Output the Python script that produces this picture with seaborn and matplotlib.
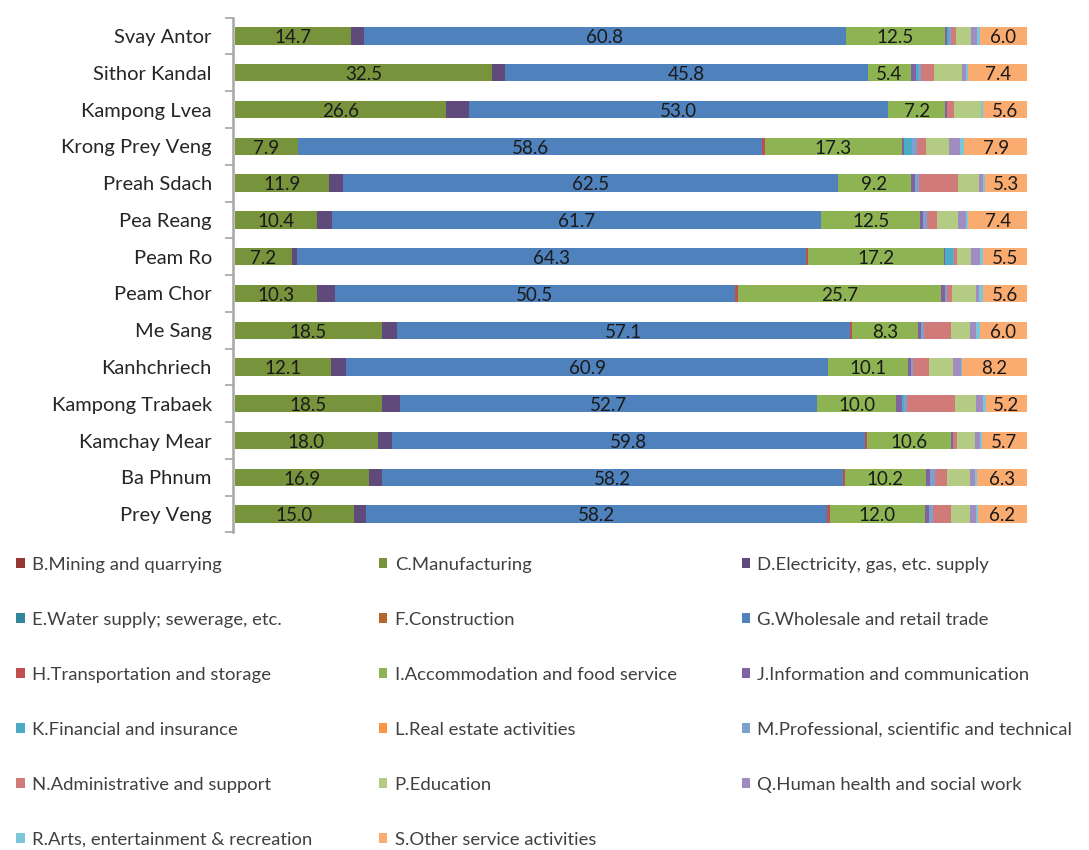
import numpy as np
import pandas as pd
import matplotlib
matplotlib.use("Agg")
import matplotlib.pyplot as plt
import seaborn as sns
from matplotlib.patches import Patch

# ===============================
# Data (percent share by sector)
# ===============================
districts = ["Svay Antor", "Sithor Kandal", "Kampong Lvea", "Krong Prey Veng",
             "Preah Sdach", "Pea Reang", "Peam Ro", "Peam Chor", "Me Sang",
             "Kanhchriech", "Kampong Trabaek", "Kamchay Mear", "Ba Phnum", "Prey Veng"]

sectors = ["B.Mining and quarrying", "C.Manufacturing", "D.Electricity, gas, etc. supply",
           "E.Water supply; sewerage, etc.", "F.Construction", "G.Wholesale and retail trade",
           "H.Transportation and storage", "I.Accommodation and food service",
           "J.Information and communication", "K.Financial and insurance",
           "L.Real estate activities", "M.Professional, scientific and technical",
           "N.Administrative and support", "P.Education", "Q.Human health and social work",
           "R.Arts, entertainment & recreation", "S.Other service activities"]

B = [0, 0, 0, 0, 0, 0, 0, 0, 0, 0, 0, 0, 0, 0]
C = [14.7, 32.5, 26.6, 7.9, 11.9, 10.4, 7.2, 10.3, 18.5, 12.1, 18.5, 18.0, 16.9, 15.0]
D = [1.6, 1.6, 2.9, 0.1, 1.7, 1.9, 0.6, 2.3, 2.0, 1.9, 2.3, 1.8, 1.7, 1.5]
E = [0, 0, 0, 0, 0, 0, 0, 0, 0, 0, 0, 0, 0, 0]
F = [0, 0, 0, 0, 0, 0, 0, 0, 0, 0, 0, 0, 0, 0]
G = [60.8, 45.8, 53.0, 58.6, 62.5, 61.7, 64.3, 50.5, 57.1, 60.9, 52.7, 59.8, 58.2, 58.2]
H = [0, 0, 0, 0.3, 0, 0, 0.2, 0.4, 0.3, 0, 0, 0.2, 0.2, 0.4]
I = [12.5, 5.4, 7.2, 17.3, 9.2, 12.5, 17.2, 25.7, 8.3, 10.1, 10.0, 10.6, 10.2, 12.0]
J = [0.3, 0.7, 0.2, 0.3, 0.5, 0.4, 0.2, 0.4, 0.4, 0.3, 0.7, 0.3, 0.6, 0.5]
K = [0.3, 0.2, 0, 1.0, 0, 0, 0.9, 0, 0, 0, 0.3, 0, 0, 0]
L = [0, 0, 0, 0, 0, 0, 0, 0, 0, 0, 0, 0, 0, 0]
M = [0.2, 0.4, 0, 0.6, 0.5, 0.5, 0.2, 0.3, 0.4, 0.3, 0.3, 0, 0.6, 0.5]
N = [0.6, 1.7, 0.9, 1.1, 5.0, 1.2, 0.4, 0.6, 3.4, 2.0, 6.1, 0.4, 1.5, 2.3]
P = [1.9, 3.5, 3.4, 2.9, 2.6, 2.7, 1.7, 3.0, 2.4, 3.1, 2.7, 2.3, 2.9, 2.4]
Q = [0.8, 0.5, 0, 1.4, 0.6, 1.0, 1.2, 0.4, 0.8, 1.0, 0.9, 0.7, 0.6, 0.8]
R = [0.3, 0.3, 0.2, 0.6, 0.2, 0.3, 0.4, 0.5, 0.4, 0.1, 0.3, 0.2, 0.3, 0.2]
S = [6.0, 7.4, 5.6, 7.9, 5.3, 7.4, 5.5, 5.6, 6.0, 8.2, 5.2, 5.7, 6.3, 6.2]

colors = ["#953735", "#77933C", "#604A7B", "#31859C", "#B7642D", "#4F81BD",
          "#C0504D", "#8DB352", "#8064A2", "#4BACC6", "#F79646", "#7F9FD0",
          "#D07B79", "#B3CB82", "#A08CC0", "#7DC5D9", "#F9AB70"]

# sectors that carry a value label
labelled = ["C", "G", "I", "S"]

# ===============================
# Build table
# ===============================
codes = list("BCDEFGHIJKLMNPQRS")
values = [B, C, D, E, F, G, H, I, J, K, L, M, N, P, Q, R, S]
df = pd.DataFrame(dict(zip(codes, values)), index=districts)
cum = df.cumsum(axis=1)

# ===============================
# Plot
# ===============================
sns.set_theme(style="white")
plt.rcParams["font.family"] = ["Lato", "DejaVu Sans"]

fig = plt.figure(figsize=(10.89, 8.5), dpi=100)
ax = fig.add_axes([0.2136, 0.3736, 0.7295, 0.6056])

# stacked bars: draw cumulative totals from the last sector back to the first
for code, col in zip(reversed(codes), reversed(colors)):
    sns.barplot(x=cum[code].values, y=districts, order=districts, orient="h",
                color=col, saturation=1, width=0.47, errorbar=None,
                linewidth=0, edgecolor="none", ax=ax)

for code in labelled:
    mid = cum[code] - df[code] / 2
    for i, name in enumerate(districts):
        ax.text(mid[name], i + 0.05, f"{df.loc[name, code]:.1f}", ha="center", va="center",
                fontsize=13.5, color="#1a1a1a")

ax.set_xlim(-0.3, 100)
ax.set_ylim(13.5, -0.5)
ax.set_xlabel("")
ax.set_ylabel("")
ax.set_xticks([])

for s in ["top", "right", "bottom"]:
    ax.spines[s].set_visible(False)
ax.spines["left"].set_color("#a6a6a6")
ax.spines["left"].set_linewidth(1.8)

ax.set_yticks(np.arange(len(districts)))
ax.set_yticklabels(districts, fontsize=14.5, color="#262626")
ax.tick_params(axis="y", which="major", length=0, pad=15)
ax.set_yticks(np.arange(len(districts) + 1) - 0.5, minor=True)
ax.tick_params(axis="y", which="minor", length=6, width=1.2, color="#a6a6a6", left=True)

# ===============================
# Legend (three columns, filled row by row)
# ===============================
handles = [Patch(facecolor=c, edgecolor="none") for c in colors]
col_x = [0.0150, 0.3480, 0.6810]
for j in range(3):
    idx = list(range(j, len(sectors), 3))
    leg = fig.legend([handles[k] for k in idx], [sectors[k] for k in idx],
                     loc="upper left", bbox_to_anchor=(col_x[j], 0.3449),
                     frameon=False, fontsize=13.3, borderpad=0, borderaxespad=0,
                     handlelength=0.45, handleheight=0.45, handletextpad=0.4,
                     labelspacing=2.11, labelcolor="#404040")

fig.savefig("out.png", dpi=100)
